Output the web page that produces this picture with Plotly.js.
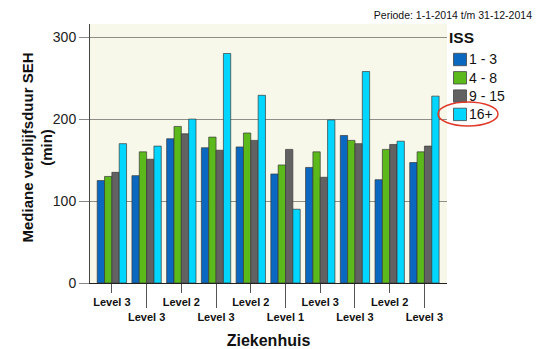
<!DOCTYPE html>
<html><head><meta charset="utf-8">
<script src="https://cdn.plot.ly/plotly-3.0.1.min.js"></script>
<style>html,body{margin:0;padding:0;background:#fff}</style>
</head><body><div id="chart" style="width:539px;height:349px"></div>
<script>
var levels = ["Level 3","Level 3","Level 2","Level 3","Level 2","Level 1","Level 3","Level 3","Level 2","Level 3"];
var seriesNames = ["1 - 3","4 - 8","9 - 15","16+"];
var iss1_3  = [125,131,176,165,166,133,141,180,126,147];
var iss4_8  = [130,160,191,178,183,144,160,174,163,160];
var iss9_15 = [135,151,182,162,174,163,129,170,169,167];
var iss16   = [170,167,200,280,229, 90,199,258,173,228];
var colors = ["#0a68c0","#5cb91c","#626262","#00d6ff"];

var idx = levels.map(function(_, i){ return i; });
var ticktext = levels.map(function(l, i){ return i % 2 === 0 ? l : " <br>" + l; });
var oddIdx = idx.filter(function(i){ return i % 2 === 1; });
var values = [iss1_3, iss4_8, iss9_15, iss16];

var traces = values.map(function(v, k){
  return {type:'bar', x: idx, y: v, name: seriesNames[k], showlegend:false,
    marker:{color: colors[k], line:{color:'#3a3a3a', width:0.7}}};
});
traces.push({type:'scatter', x:[idx[0]], y:[0], xaxis:'x2', mode:'markers',
  marker:{opacity:0}, showlegend:false, hoverinfo:'skip'});

// plot area in pixels (for placing the hand-made legend)
var L = 90, R = 447, T = 24, B = 283;
function px(x){ return (x - L) / (R - L); }
function py(y){ return (B - y) / (B - T); }

var font = "Liberation Sans, Arial, sans-serif";
var shapes = [], annotations = [];
seriesNames.forEach(function(name, k){
  var cy = 59.5 + 18.3 * k;
  shapes.push({type:'rect', xref:'paper', yref:'paper', x0:px(453.5), x1:px(466.5),
    y0:py(cy + 6.2), y1:py(cy - 6.2), fillcolor:colors[k], line:{color:'#444', width:0.8}});
  annotations.push({text:name, xref:'paper', yref:'paper', x:px(466.5), y:py(cy),
    xanchor:'left', yanchor:'middle', showarrow:false, font:{size:14, family:font, color:'#111'}});
});
annotations.push({text:'<b>ISS</b>', xref:'paper', yref:'paper', x:px(447), y:py(37.5),
  xanchor:'left', yanchor:'middle', showarrow:false, font:{size:15.5, family:font, color:'#111'}});
annotations.push({text:'<b>Mediane verblijfsduur SEH<br>(min)</b>', xref:'paper', yref:'paper',
  x:px(36.5), y:py(148), xanchor:'center', yanchor:'middle', textangle:-90, showarrow:false,
  font:{size:15, family:font, color:'#111'}});
shapes.push({type:'circle', xref:'paper', yref:'paper', x0:px(438), x1:px(498), y0:py(126), y1:py(102),
  line:{color:'#e03a2a', width:1.5}});

var layout = {
  width:539, height:349,
  margin:{l:90, r:92, t:24, b:66},
  paper_bgcolor:'#ffffff', plot_bgcolor:'#f8f8ea',
  font:{family:font, color:'#111'},
  showlegend:false,
  barmode:'group', bargap:0.155, bargroupgap:0,
  title:{text:'Periode: 1-1-2014 t/m 31-12-2014', xref:'container', x:0.987, xanchor:'right',
    y:0.957, yanchor:'middle', font:{size:10.5, color:'#111', family:font}},
  xaxis:{range:[-0.63,9.65], tickmode:'array', tickvals:idx, ticktext:ticktext, tickangle:0,
    ticks:'outside', ticklen:9, tickcolor:'#555', tickwidth:1,
    tickfont:{size:11, family:font, weight:'bold', color:'#111'},
    showline:true, linecolor:'#222', linewidth:1, showgrid:false, zeroline:false,
    title:{text:'<b>Ziekenhuis</b>', font:{size:16, family:font, color:'#111'}, standoff:13}},
  xaxis2:{overlaying:'x', anchor:'y', side:'bottom', range:[-0.63,9.65], tickmode:'array',
    tickvals:oddIdx, ticktext:oddIdx.map(function(){return '';}), ticks:'outside', ticklen:24,
    tickcolor:'#555', tickwidth:1, showticklabels:false, showgrid:false, zeroline:false, showline:false},
  yaxis:{range:[0,316], tickvals:[0,100,200,300], ticks:'outside', ticklen:10, tickcolor:'#888',
    tickfont:{size:14, family:font, color:'#222'}, showgrid:true, gridcolor:'#8e8e86', gridwidth:1,
    zeroline:true, zerolinecolor:'#222', zerolinewidth:1, showline:true, linecolor:'#444', linewidth:1},
  annotations:annotations,
  shapes:shapes
};
Plotly.newPlot('chart', traces, layout, {displayModeBar:false, staticPlot:true});
</script></body></html>
